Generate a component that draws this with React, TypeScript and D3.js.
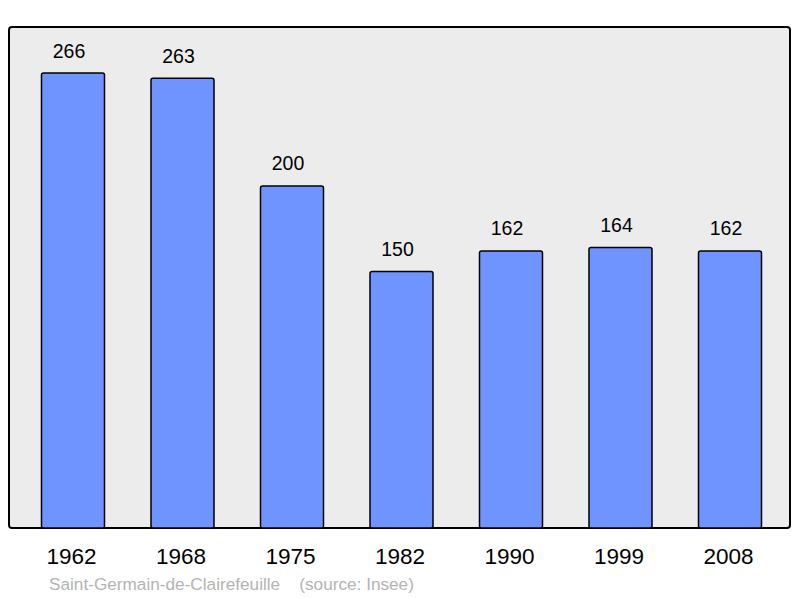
import React from "react";
import * as d3 from "d3";

const years = ["1962", "1968", "1975", "1982", "1990", "1999", "2008"];
const population = [266, 263, 200, 150, 162, 164, 162];
const footerName = "Saint-Germain-de-Clairefeuille";
const footerSource = "(source: Insee)";

export default function App() {
  const W = 800, H = 598;
  const panel = { x: 9, y: 27, w: 781, h: 501 };
  const x = d3.scaleBand<string>().domain(years).range([18.25, 784.75]).paddingInner(0.4247).paddingOuter(0.21235);
  const y = d3.scaleLinear().domain([0, 266]).range([528, 73]);
  return (
    <svg width={W} height={H} style={{ position: "absolute", left: 0, top: 0 }} fontFamily="'Liberation Sans', Arial, sans-serif">
      <rect x={panel.x} y={panel.y} width={panel.w} height={panel.h} rx={3} fill="#ececec" stroke="#000" strokeWidth={2} />
      {years.map((yr, i) => {
        const bx = x(yr)!;
        const by = y(population[i]);
        return (
          <g key={yr}>
            <rect x={bx} y={by} width={x.bandwidth()} height={y(0) - by} rx={2} fill="#7094ff" stroke="#000" strokeWidth={1.5} />
            <text x={bx + x.bandwidth() / 2 - 4} y={by - 15.5} textAnchor="middle" fontSize={19.5} fill="#000">{population[i]}</text>
            <text x={bx + x.bandwidth() / 2 - 1.5} y={564} textAnchor="middle" fontSize={22.5} fill="#000">{yr}</text>
          </g>
        );
      })}
      <text x={49} y={589.5} fontSize={17.2} fill="#b4b4b4" style={{ whiteSpace: "pre" }}>{footerName + "    " + footerSource}</text>
    </svg>
  );
}
